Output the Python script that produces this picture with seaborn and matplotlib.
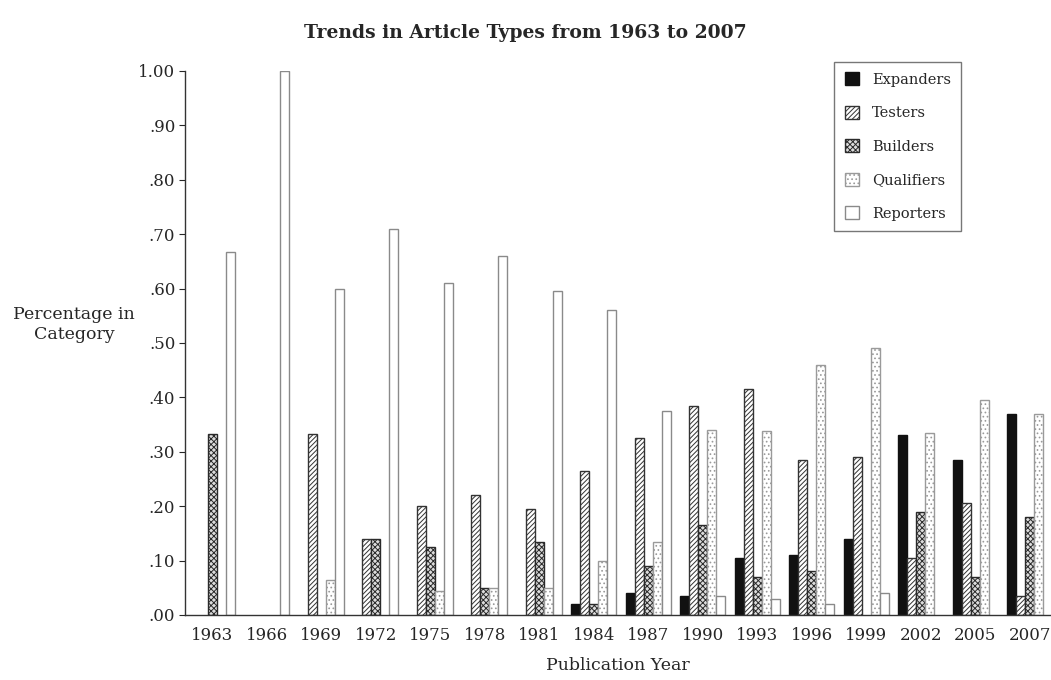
import matplotlib
matplotlib.use("Agg")
import matplotlib.pyplot as plt
import seaborn as sns
import pandas as pd
import numpy as np

years = ["1963", "1966", "1969", "1972", "1975", "1978", "1981", "1984",
         "1987", "1990", "1993", "1996", "1999", "2002", "2005", "2007"]
types = ["Expanders", "Testers", "Builders", "Qualifiers", "Reporters"]

expanders  = [0, 0, 0, 0, 0, 0, 0, .02, .04, .035, .105, .11, .14, .33, .285, .37]
testers    = [0, 0, .333, .14, .20, .22, .195, .265, .325, .385, .415, .285, .29, .105, .205, .035]
builders   = [.333, 0, 0, .14, .125, .05, .135, .02, .09, .165, .07, .08, 0, .19, .07, .18]
qualifiers = [0, 0, .065, 0, .045, .05, .05, .10, .135, .34, .338, .46, .49, .335, .395, .37]
reporters  = [.667, 1.00, .60, .71, .61, .66, .595, .56, .375, .035, .03, .02, .04, 0, 0, 0]

series = [expanders, testers, builders, qualifiers, reporters]
rows = []
for t, vals in zip(types, series):
    for y, v in zip(years, vals):
        rows.append({"Year": y, "Type": t, "Value": v})
df = pd.DataFrame(rows)

sns.set_style("white")
plt.rcParams['font.family'] = ['DejaVu Serif']
plt.rcParams['hatch.linewidth'] = 0.7

fig, ax = plt.subplots(figsize=(10.51, 6.8), dpi=100)
sns.barplot(data=df, x="Year", y="Value", hue="Type", hue_order=types,
            order=years, width=0.82, gap=0, ax=ax, errorbar=None,
            palette=["white"] * 5, linewidth=1.0)

faces = ["#111111", "white", "#dddddd", "white", "white"]
edges = ["#111111", "#333333", "#2a2a2a", "#9a9a9a", "#8a8a8a"]
hatches = [None, "///////", "xxxxxx", "....", None]
for cont, fc, ec, h in zip(ax.containers, faces, edges, hatches):
    for p in cont:
        p.set_facecolor(fc)
        p.set_edgecolor(ec)
        if h:
            p.set_hatch(h)
        if p.get_height() == 0:
            p.set_visible(False)

ax.set_xlim(-0.5, 15.39)
ax.set_ylim(0, 1.0)
ax.set_yticks(np.arange(0, 1.01, 0.1))
ax.set_yticklabels([".00", ".10", ".20", ".30", ".40", ".50", ".60", ".70", ".80", ".90", "1.00"])
ax.set_xticks(np.arange(0.5, 15.5, 1), minor=True)
ax.tick_params(axis="x", which="major", length=0, labelsize=12, pad=9)
ax.tick_params(axis="x", which="minor", length=4, width=0.8, direction="out")
ax.tick_params(axis="y", length=4, width=0.8, direction="out", labelsize=12, left=True, pad=3)
sns.despine(ax=ax)
for s in ["left", "bottom"]:
    ax.spines[s].set_linewidth(1.0)
    ax.spines[s].set_color("#333333")

ax.set_xlabel("Publication Year", fontsize=12.5, labelpad=9)
ax.set_ylabel("Percentage in\nCategory", fontsize=12.5, rotation=0, labelpad=0)
ax.yaxis.set_label_coords(-0.128, 0.5)
fig.suptitle("Trends in Article Types from 1963 to 2007", fontsize=13.5,
             fontweight="bold", x=0.5, y=0.965)

handles, labels = ax.get_legend_handles_labels()
for hd, fc, ec, h in zip(handles, faces, edges, hatches):
    hd.set_facecolor(fc)
    hd.set_edgecolor(ec)
    if h:
        hd.set_hatch(h)
ax.legend(handles, labels, loc="upper right", bbox_to_anchor=(0.905, 1.03),
          fontsize=10.5, frameon=True, fancybox=False, edgecolor="#555555",
          handlelength=1.0, handleheight=1.0, labelspacing=1.3,
          borderpad=0.7, handletextpad=0.9)

plt.subplots_adjust(left=0.176, right=1.0, bottom=0.0956, top=0.8956)
plt.savefig("out.png", dpi=100)
